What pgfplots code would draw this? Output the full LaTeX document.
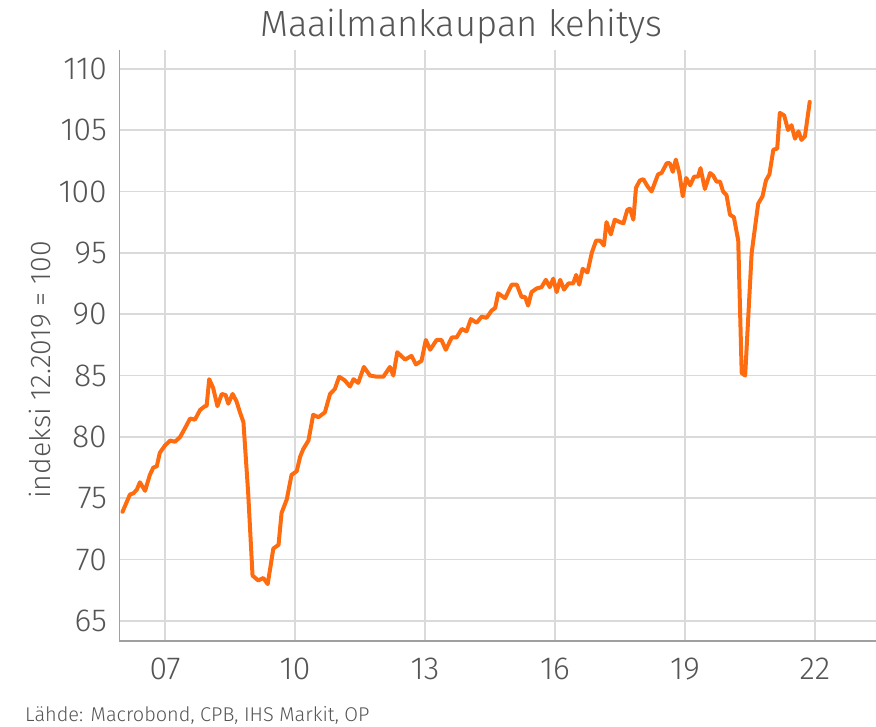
\documentclass[border=0pt]{standalone}
\usepackage{fontspec}
\IfFontExistsTF{Fira Sans Light}{\setmainfont{Fira Sans Light}}{\setmainfont{Fira Sans}}
\usepackage{pgfplots}
\pgfplotsset{compat=1.18}
\definecolor{lineor}{RGB}{255,108,16}
\definecolor{txt}{RGB}{85,85,85}
\definecolor{grd}{RGB}{218,218,218}
\definecolor{axl}{RGB}{160,160,160}
\pgfplotstableread{
x y
2006.02 73.9
2006.19 75.3
2006.27 75.4
2006.35 75.7
2006.42 76.3
2006.54 75.6
2006.65 76.9
2006.73 77.5
2006.81 77.6
2006.88 78.7
2007.00 79.3
2007.12 79.7
2007.23 79.6
2007.35 80.0
2007.46 80.7
2007.58 81.5
2007.69 81.4
2007.81 82.2
2007.92 82.5
2007.96 82.5
2008.02 84.7
2008.11 84.0
2008.21 82.5
2008.31 83.5
2008.40 83.4
2008.46 82.7
2008.56 83.5
2008.65 82.9
2008.73 82.0
2008.81 81.2
2008.92 75.4
2009.02 68.7
2009.15 68.3
2009.27 68.5
2009.37 68.0
2009.50 70.9
2009.62 71.2
2009.69 73.8
2009.81 74.9
2009.92 76.9
2010.04 77.2
2010.12 78.4
2010.19 79.0
2010.31 79.7
2010.42 81.8
2010.54 81.6
2010.69 82.0
2010.81 83.5
2010.92 83.9
2011.02 84.9
2011.15 84.6
2011.27 84.1
2011.35 84.7
2011.46 84.4
2011.59 85.7
2011.73 85.0
2011.89 84.9
2012.04 84.9
2012.19 85.7
2012.27 85.0
2012.36 86.9
2012.54 86.3
2012.69 86.6
2012.79 85.9
2012.92 86.2
2013.02 87.9
2013.12 87.1
2013.27 87.9
2013.38 87.9
2013.48 87.1
2013.62 88.1
2013.73 88.1
2013.85 88.8
2013.96 88.6
2014.06 89.6
2014.19 89.3
2014.31 89.8
2014.42 89.7
2014.54 90.3
2014.62 90.5
2014.69 91.7
2014.85 91.3
2015.00 92.4
2015.12 92.4
2015.23 91.4
2015.31 91.4
2015.38 90.7
2015.46 91.8
2015.58 92.1
2015.69 92.2
2015.79 92.8
2015.88 92.2
2015.96 92.9
2016.04 91.8
2016.12 92.8
2016.21 92.0
2016.31 92.5
2016.42 92.5
2016.49 93.2
2016.56 92.4
2016.64 93.7
2016.75 93.4
2016.85 95.0
2016.95 96.0
2017.04 96.0
2017.13 95.6
2017.19 97.5
2017.29 96.5
2017.38 97.7
2017.50 97.5
2017.58 97.4
2017.67 98.5
2017.73 98.6
2017.81 97.7
2017.87 100.3
2017.96 100.9
2018.04 101.0
2018.14 100.4
2018.23 100.0
2018.38 101.4
2018.46 101.5
2018.58 102.3
2018.65 102.3
2018.72 101.6
2018.79 102.6
2018.87 101.5
2018.95 99.6
2019.03 101.1
2019.12 100.5
2019.21 101.2
2019.30 101.2
2019.36 101.9
2019.46 100.2
2019.58 101.5
2019.65 101.3
2019.73 100.8
2019.81 100.8
2019.88 100.0
2019.96 99.7
2020.04 98.1
2020.13 97.9
2020.23 96.0
2020.31 85.2
2020.39 85.0
2020.54 95.0
2020.69 99.0
2020.79 99.6
2020.87 100.9
2020.95 101.4
2021.04 103.4
2021.13 103.5
2021.19 106.4
2021.29 106.2
2021.38 105.0
2021.46 105.4
2021.54 104.3
2021.62 104.9
2021.69 104.2
2021.77 104.5
2021.88 107.3
}\worldtrade
\begin{document}
\begin{tikzpicture}[x=1bp,y=1bp]
\path[use as bounding box] (0,0) rectangle (876,727);
\begin{axis}[
  at={(119.3bp,86.3bp)}, anchor=south west,
  width=756.7bp, height=590.7bp, scale only axis,
  xmin=2005.945, xmax=2023.41, ymin=63.39, ymax=111.53,
  axis x line*=bottom, axis y line*=left,
  x axis line style={draw=axl, line width=2bp, -},
  y axis line style={draw=axl, line width=1.5bp, -},
  grid=major, major grid style={draw=grd, line width=1.6bp},
  xtick={2007,2010,2013,2016,2019,2022},
  xticklabels={07,10,13,16,19,22},
  ytick={65,70,...,110},
  major tick length=0pt,
  /pgf/number format/assume math mode=true,
  ticklabel style={font=\fontsize{32}{38}\selectfont, text=txt},
  xticklabel style={yshift=-14bp},
  yticklabel style={xshift=-9bp},
  clip=false,
]
\addplot[draw=lineor, line width=4bp, line join=round, line cap=round] table[x=x,y=y] {\worldtrade};
\end{axis}
\node[text=txt, font=\fontsize{36.5}{42}\selectfont] at (461,700) {Maailmankaupan kehitys};
\node[rotate=90, text=txt, font=\fontsize{28.5}{33}\selectfont] at (40,357) {indeksi 12.2019 = 100};
\node[anchor=base west, text=txt, font=\fontsize{20}{24}\selectfont, inner sep=0pt] at (25,5) {Lähde: Macrobond, CPB, IHS Markit, OP};
\end{tikzpicture}
\end{document}
